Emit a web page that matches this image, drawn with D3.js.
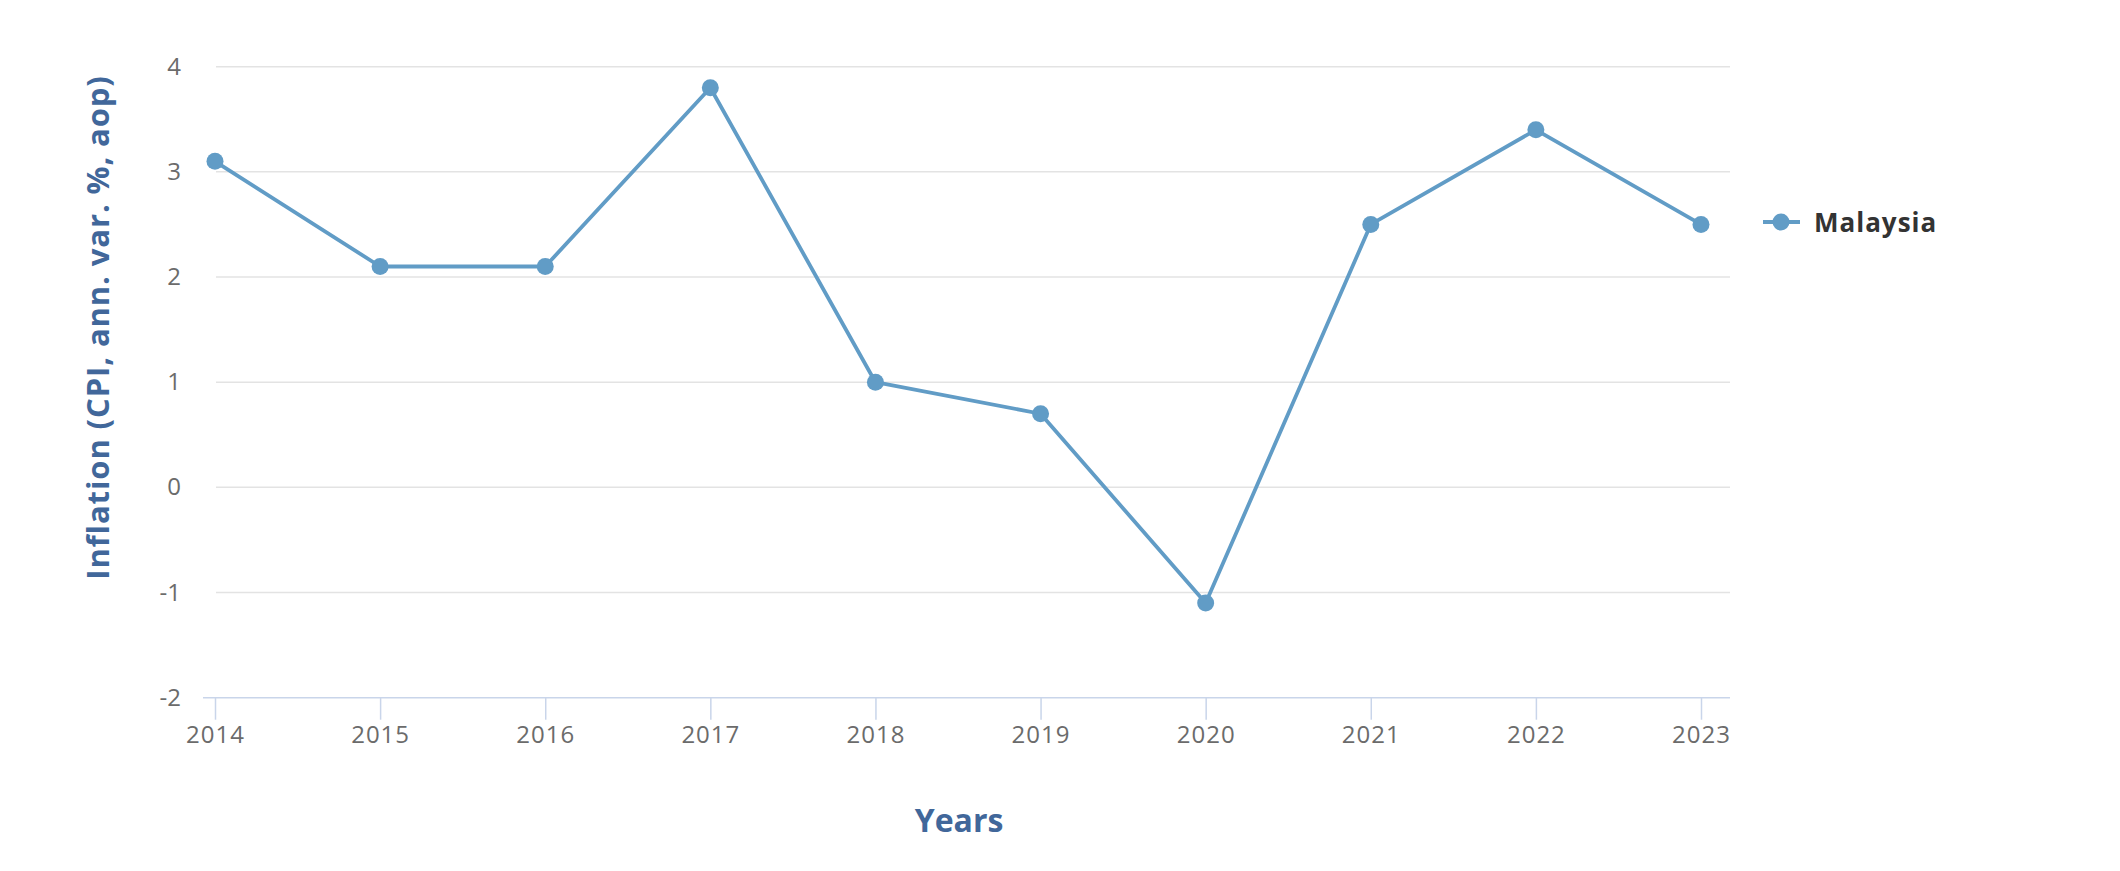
<!DOCTYPE html>
<html>
<head>
<meta charset="utf-8">
<script src="https://cdn.jsdelivr.net/npm/d3@7"></script>
<style>
  html, body { margin: 0; padding: 0; background: #ffffff; }
  svg { display: block; }
</style>
</head>
<body>
<svg id="chart" width="2120" height="871"></svg>
<script>
const years = ["2014","2015","2016","2017","2018","2019","2020","2021","2022","2023"];
const inflation = [3.1, 2.1, 2.1, 3.8, 1.0, 0.7, -1.1, 2.5, 3.4, 2.5];
const yTicks = [-2, -1, 0, 1, 2, 3, 4];
const seriesName = "Malaysia";
const yTitle = "Inflation (CPI, ann. var. %, aop)";
const xTitle = "Years";

const svg = d3.select("#chart");
const font = "'Open Sans', 'DejaVu Sans', sans-serif";
const lineColor = "#619cc6";
const titleColor = "#41679a";

const plotLeft = 203, plotRight = 1730, plotTop = 66.7, plotBottom = 697.7;

const x = d3.scalePoint().domain(years).range([215, 1701]);
const y = d3.scaleLinear().domain([-2, 4]).range([plotBottom, plotTop]);

// gridlines
svg.append("g").selectAll("line")
  .data(yTicks.filter(d => d !== -2))
  .join("line")
  .attr("x1", 216).attr("x2", plotRight)
  .attr("y1", d => y(d)).attr("y2", d => y(d))
  .attr("stroke", "#e3e3e3").attr("stroke-width", 1.5);

// y tick labels
svg.append("g").selectAll("text")
  .data(yTicks)
  .join("text")
  .attr("x", 181).attr("y", d => y(d) + 8)
  .attr("text-anchor", "end")
  .attr("font-family", font).attr("font-size", 24)
  .attr("fill", "#6b6b6b")
  .text(d => d);

// x axis
const xAxis = d3.axisBottom(x).tickSize(22).tickPadding(6);
const gx = svg.append("g").attr("transform", `translate(0,${plotBottom})`).call(xAxis);
gx.select(".domain").remove();
gx.selectAll(".tick line").attr("stroke", "#c9d5ea").attr("stroke-width", 1.5);
gx.selectAll(".tick text")
  .attr("font-family", font).attr("font-size", 24)
  .attr("fill", "#6b6b6b").attr("letter-spacing", 1)
  .attr("dy", "0.71em");
svg.append("line")
  .attr("x1", plotLeft).attr("x2", plotRight)
  .attr("y1", plotBottom).attr("y2", plotBottom)
  .attr("stroke", "#c9d5ea").attr("stroke-width", 1.5);

// line
const line = d3.line().x((d, i) => x(years[i])).y(d => y(d));
svg.append("path")
  .datum(inflation)
  .attr("d", line)
  .attr("fill", "none")
  .attr("stroke", lineColor)
  .attr("stroke-width", 3.8)
  .attr("stroke-linejoin", "round");

svg.append("g").selectAll("circle")
  .data(inflation)
  .join("circle")
  .attr("cx", (d, i) => x(years[i]))
  .attr("cy", d => y(d))
  .attr("r", 8.5)
  .attr("fill", lineColor);

// axis titles
svg.append("text")
  .attr("transform", `translate(109,${(68 + 587) / 2}) rotate(-90)`)
  .attr("text-anchor", "middle")
  .attr("font-family", font).attr("font-size", 31).attr("font-weight", "bold")
  .attr("letter-spacing", 0.9)
  .attr("fill", titleColor)
  .text(yTitle);

svg.append("text")
  .attr("x", 959).attr("y", 832)
  .attr("text-anchor", "middle")
  .attr("font-family", font).attr("font-size", 32).attr("font-weight", "bold")
  .attr("fill", titleColor)
  .text(xTitle);

// legend
const lg = svg.append("g").attr("transform", "translate(0,222)");
lg.append("line").attr("x1", 1763).attr("x2", 1800).attr("y1", 0).attr("y2", 0)
  .attr("stroke", lineColor).attr("stroke-width", 3.8);
lg.append("circle").attr("cx", 1781).attr("cy", 0).attr("r", 8.5).attr("fill", lineColor);
lg.append("text").attr("x", 1814).attr("y", 9.5)
  .attr("font-family", font).attr("font-size", 26).attr("font-weight", "bold")
  .attr("letter-spacing", 1)
  .attr("fill", "#333333")
  .text(seriesName);
</script>
</body>
</html>
